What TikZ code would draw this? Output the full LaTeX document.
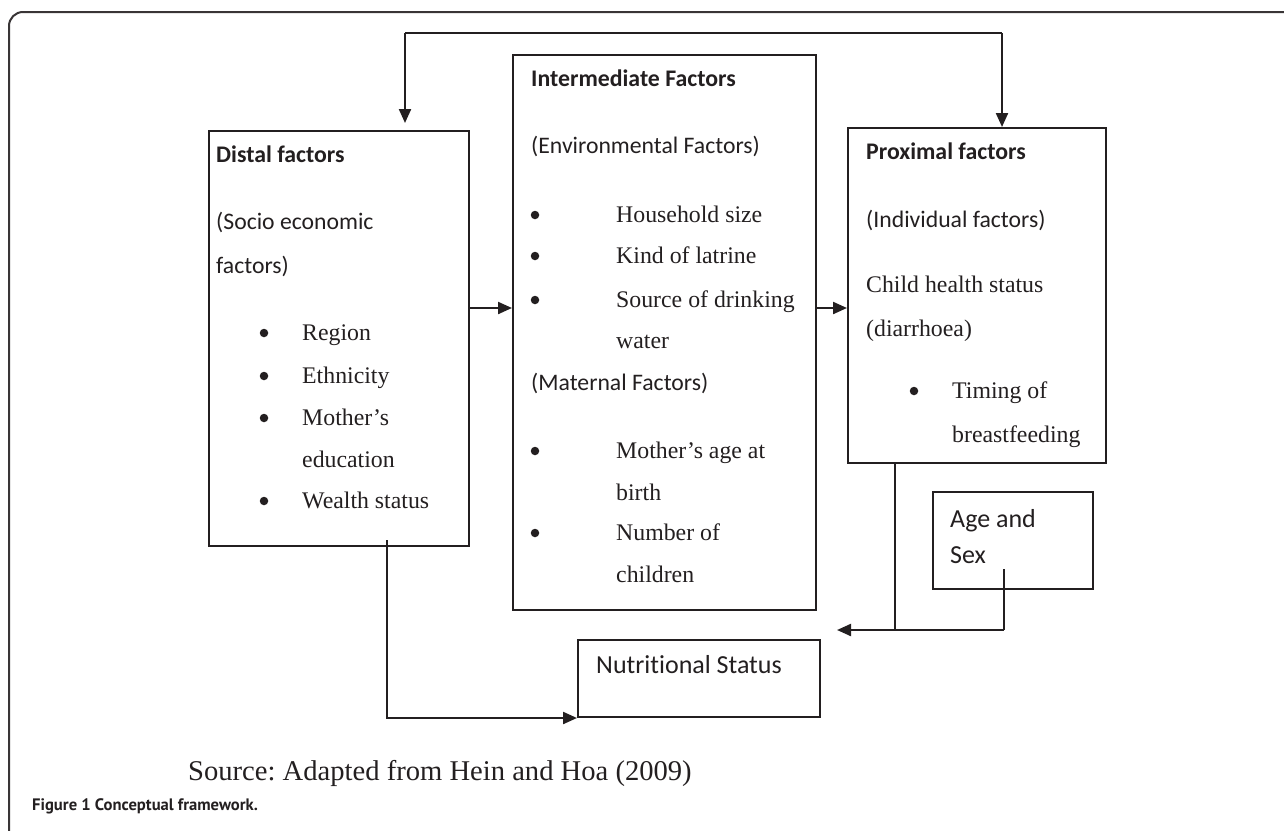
\documentclass[tikz,border=0pt]{standalone}
\usepackage{fontspec}
\setmainfont{Liberation Serif}
\newfontfamily\calibri[Ligatures=NoCommon]{Carlito}
\newfontfamily\capfont{PT Sans}
\usetikzlibrary{arrows.meta}
\definecolor{ink}{HTML}{231F20}
\newcommand\serf{\fontsize{23.8}{23.8}\selectfont}
\newcommand\calf{\calibri\fontsize{23.7}{23.7}\selectfont}
\newcommand\calb{\calibri\bfseries\fontsize{23.8}{23.8}\selectfont}
\newcommand\calbig{\calibri\fontsize{26}{26}\selectfont}
\begin{document}
\frenchspacing
\begin{tikzpicture}[x=1pt,y=-1pt,
  box/.style={draw=ink, line width=2pt, rectangle, inner sep=0pt, anchor=north west},
  tx/.style={anchor=base west, inner sep=0pt, text=ink},
  dot/.style={circle, fill=ink, inner sep=0pt, minimum size=8.5pt},
  arr/.style={draw=ink, line width=2.2pt, -{Triangle[length=14pt,width=12pt]}},
  ln/.style={draw=ink, line width=2pt}]
\useasboundingbox (0,0) rectangle (1284,830);
% outer frame
\draw[draw=ink!90, line width=2pt, rounded corners=14pt] (9,832) -- (9,12) -- (1290,12);

% boxes
\node[box, minimum width=260pt, minimum height=415pt] (distal) at (208,130) {};
\node[box, minimum width=303pt, minimum height=555pt] (inter) at (512,54) {};
\node[box, minimum width=258pt, minimum height=335pt] (prox) at (847,127) {};
\node[box, minimum width=160pt, minimum height=97pt] (agesex) at (932,491) {};
\node[box, minimum width=242pt, minimum height=77pt] (nutri) at (577,639) {};

% distal texts
\node[tx] (d1) at (216,162) {\calb Distal factors};
\node[tx] (d2) at (216,229) {\calf (Socio economic};
\node[tx] (d3) at (216,273) {\calf factors)};
\node[dot] (db1) at (264,333) {};
\node[tx] (d4) at (302,340) {\serf Region};
\node[dot] (db2) at (264,376) {};
\node[tx] (d5) at (302,383) {\serf Ethnicity};
\node[dot] (db3) at (264,418) {};
\node[tx] (d6) at (302,425) {\serf Mother’s};
\node[tx] (d7) at (302,467) {\serf education};
\node[dot] (db4) at (264,501) {};
\node[tx] (d8) at (302,508) {\serf Wealth status};

% intermediate texts
\node[tx] (i1) at (531,86) {\calb Intermediate Factors};
\node[tx] (i2) at (531,153) {\calf (Environmental Factors)};
\node[dot] (ib1) at (535,215) {};
\node[tx] (i3) at (616,222) {\serf Household size};
\node[dot] (ib2) at (535,256) {};
\node[tx] (i4) at (616,263) {\serf Kind of latrine};
\node[dot] (ib3) at (535,300) {};
\node[tx] (i5) at (616,307) {\serf Source of drinking};
\node[tx] (i6) at (616,348) {\serf water};
\node[tx] (i7) at (531,390) {\calf (Maternal Factors)};
\node[dot] (ib4) at (535,451) {};
\node[tx] (i8) at (616,458) {\serf Mother’s age at};
\node[tx] (i9) at (616,500) {\serf birth};
\node[dot] (ib5) at (535,533) {};
\node[tx] (i10) at (616,540) {\serf Number of};
\node[tx] (i11) at (616,582) {\serf children};

% proximal texts
\node[tx] (p1) at (866,159) {\calb Proximal factors};
\node[tx] (p2) at (866,227) {\calf (Individual factors)};
\node[tx] (p3) at (866,292) {\serf Child health status};
\node[tx] (p4) at (866,336) {\serf (diarrhoea)};
\node[dot] (pb1) at (914,391) {};
\node[tx] (p5) at (952,398) {\serf Timing of};
\node[tx] (p6) at (952,442) {\serf breastfeeding};

% age and sex, nutritional
\node[tx] (a1) at (950,527) {\calbig Age and};
\node[tx] (a2) at (950,563) {\calbig Sex};
\node[tx] (n1) at (596,673) {\calbig Nutritional Status};

% source & caption
\node[tx] (src) at (188,780) {\fontsize{28.6}{28.6}\selectfont Source: Adapted from Hein and Hoa (2009)};
\node[tx] (cap) at (32,810) {\capfont\bfseries\fontsize{16.6}{16.6}\selectfont Figure 1 Conceptual framework.};

% connector coordinates
\coordinate (fbL) at (405,33);
\coordinate (fbR) at (1002,33);
\coordinate (y308) at (0,308);
\coordinate (dl) at (387,540);
\coordinate (pj) at (895,630);
\coordinate (aj) at (1004,630);
\coordinate (asx) at (1004,569);
\coordinate (tip) at (837,630);

% connectors
\draw[ln, line width=1.6pt] (fbL) -- (fbR);
\draw[arr, shorten >=7pt] (fbL) -- (distal.north -| fbL);
\draw[arr] (fbR) -- (prox.north -| fbR);
\draw[arr] (distal.east |- y308) -- (inter.west |- y308);
\draw[arr] (inter.east |- y308) -- (prox.west |- y308);
\draw[arr] (dl) |- (nutri.south west);
\draw[ln] (prox.south -| pj) -- (pj);
\draw[ln] (asx) -- (aj);
\draw[arr] (aj) -- (tip);
\end{tikzpicture}
\end{document}
